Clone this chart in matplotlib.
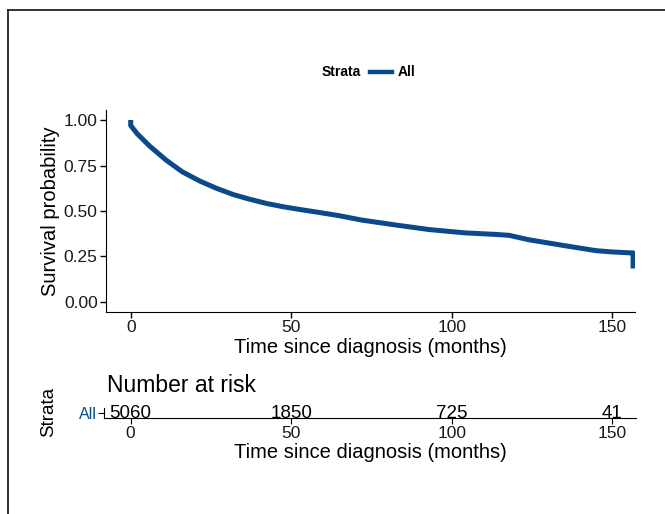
import numpy as np
import matplotlib.pyplot as plt
from matplotlib.lines import Line2D

plt.rcParams['font.family'] = ['Liberation Sans', 'DejaVu Sans']

# curva de supervivencia
tiempo = [0, 0, 2, 6, 11, 16, 21.6, 26.8, 32, 37, 42.4, 47.6, 52.8, 58, 65,
          72, 83, 93, 104, 114, 118, 124, 135, 145, 150, 155.5, 156.5, 156.5]
superv = [1.0, 0.97, 0.925, 0.855, 0.78, 0.716, 0.664, 0.624, 0.59, 0.565,
          0.541, 0.523, 0.508, 0.494, 0.474, 0.45, 0.422, 0.398, 0.38, 0.371,
          0.366, 0.342, 0.31, 0.282, 0.275, 0.27, 0.27, 0.184]

# tabla de numero en riesgo
t_riesgo = [0, 50, 100, 150]
n_riesgo = [5060, 1850, 725, 41]
estrato = "All"

xticks = [0, 50, 100, 150]
yticks = [0.0, 0.25, 0.5, 0.75, 1.0]
color = "#0b4a8a"

W, H = 665, 514
fig = plt.figure(figsize=(W/100, H/100), dpi=100)

def box(l, b, r, t):
    return [l/W, 1 - b/H, (r - l)/W, (b - t)/H]

# grafico principal
ax = fig.add_axes(box(106, 312, 635, 110))
ax.plot(tiempo, superv, color=color, lw=3.6, solid_capstyle='butt')
ax.set_xlim(-7.7, 157.1)
ax.set_ylim(-0.055, 1.055)
ax.set_xticks(xticks)
ax.set_yticks(yticks)
ax.set_yticklabels(["%.2f" % v for v in yticks])
for s in ['top', 'right']:
    ax.spines[s].set_visible(False)
ax.tick_params(labelsize=12.5, length=4, width=1, pad=2, labelcolor='#1a1a1a')
ax.set_xlabel("Time since diagnosis (months)", fontsize=14.5, labelpad=2)
ax.set_ylabel("Survival probability", fontsize=14.5, labelpad=3)

# leyenda superior
yl = 1 - 72/H
fig.text(322/W, yl, "Strata", fontsize=10, fontweight='bold', ha='left', va='center')
fig.add_artist(Line2D([370/W, 392/W], [yl, yl], color=color, lw=3.2))
fig.text(398/W, yl, estrato, fontsize=10, fontweight='bold', ha='left', va='center')

# tabla de riesgo
ar = fig.add_axes(box(104, 418, 636, 408))
ar.set_xlim(-8.3, 157.4)
ar.set_ylim(0.5, 1.5)
for t, n in zip(t_riesgo, n_riesgo):
    ar.text(t, 1, str(n), fontsize=13.5, ha='center', va='center')
ar.set_xticks(xticks)
ar.set_yticks([1])
ar.set_yticklabels([estrato], color=color)
for s in ['top', 'right']:
    ar.spines[s].set_visible(False)
ar.tick_params(axis='x', labelsize=12.5, length=4, pad=2, labelcolor='#1a1a1a')
ar.tick_params(axis='y', labelsize=11.5, length=4, pad=1)
ar.set_xlabel("Time since diagnosis (months)", fontsize=14.5, labelpad=1)
fig.text(107/W, 1 - 385/H, "Number at risk", fontsize=16.5, ha='left', va='center')
fig.text(49/W, 1 - 412/H, "Strata", fontsize=13.5, rotation=90, ha='center', va='center')

# marco
fig.add_artist(Line2D([8/W, 1], [1 - 9.5/H, 1 - 9.5/H], color='#222222', lw=1.3))
fig.add_artist(Line2D([8/W, 8/W], [0, 1 - 9.5/H], color='#222222', lw=1.3))

fig.savefig("out.png", dpi=100)
